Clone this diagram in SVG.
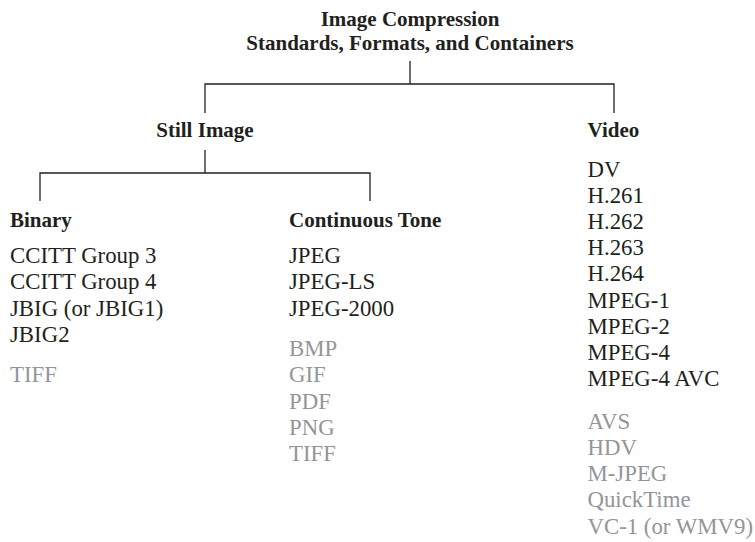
<svg xmlns="http://www.w3.org/2000/svg" width="755" height="542" viewBox="0 0 755 542">
<style>
text{font-family:"Liberation Serif","Times New Roman",serif;fill:#231f20}
.h{font-weight:bold;font-size:21px}
.i{font-size:22.8px}
.g{fill:#939598}
.c{stroke:#231f20;stroke-width:1.3;fill:none}
</style>
<rect width="755" height="542" fill="#fff"/>
<g id="connectors">
<path class="c" d="M410,61V84M205,113V84H614V113"/>
<path class="c" d="M205,150V173M40,201V173H370V201"/>
</g>
<g id="root">
<text class="h" x="410" y="26" text-anchor="middle">Image Compression</text>
<text class="h" x="410" y="50" text-anchor="middle">Standards, Formats, and Containers</text>
</g>
<g id="still">
<text class="h" x="205" y="136.5" text-anchor="middle">Still Image</text>
</g>
<g id="video">
<text class="h" x="587.5" y="136.5">Video</text>
<text class="i" x="587.5" y="176.5">DV</text>
<text class="i" x="587.5" y="202.7">H.261</text>
<text class="i" x="587.5" y="228.9">H.262</text>
<text class="i" x="587.5" y="255.1">H.263</text>
<text class="i" x="587.5" y="281.3">H.264</text>
<text class="i" x="587.5" y="307.5">MPEG-1</text>
<text class="i" x="587.5" y="333.7">MPEG-2</text>
<text class="i" x="587.5" y="359.9">MPEG-4</text>
<text class="i" x="587.5" y="386.1">MPEG-4 AVC</text>
<text class="i g" x="587.5" y="428.7">AVS</text>
<text class="i g" x="587.5" y="454.9">HDV</text>
<text class="i g" x="587.5" y="481.1">M-JPEG</text>
<text class="i g" x="587.5" y="507.3">QuickTime</text>
<text class="i g" x="587.5" y="533.5">VC-1 (or WMV9)</text>
</g>
<g id="binary">
<text class="h" x="10" y="226.5">Binary</text>
<text class="i" x="10" y="263">CCITT Group 3</text>
<text class="i" x="10" y="289.3">CCITT Group 4</text>
<text class="i" x="10" y="315.6">JBIG (or JBIG1)</text>
<text class="i" x="10" y="341.9">JBIG2</text>
<text class="i g" x="10" y="382">TIFF</text>
</g>
<g id="continuous">
<text class="h" x="289" y="226.5">Continuous Tone</text>
<text class="i" x="289" y="263">JPEG</text>
<text class="i" x="289" y="289.3">JPEG-LS</text>
<text class="i" x="289" y="315.6">JPEG-2000</text>
<text class="i g" x="289" y="356">BMP</text>
<text class="i g" x="289" y="382.3">GIF</text>
<text class="i g" x="289" y="408.6">PDF</text>
<text class="i g" x="289" y="434.9">PNG</text>
<text class="i g" x="289" y="461.2">TIFF</text>
</g>
</svg>
